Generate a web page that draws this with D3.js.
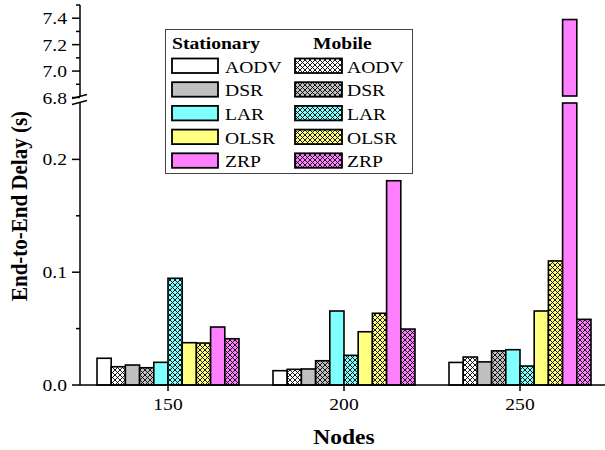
<!DOCTYPE html>
<html>
<head>
<meta charset="utf-8">
<script src="https://cdn.jsdelivr.net/npm/d3@7"></script>
<style>
  html, body { margin: 0; padding: 0; background: #fff; }
  svg { display: block; }
  text { font-family: "Liberation Serif", "Times New Roman", serif; fill: #000; }
</style>
</head>
<body>
<svg id="chart" width="605" height="450"></svg>
<script>
// ---- data ----
const nodeCounts = ["150", "200", "250"];
const protocols = ["AODV", "DSR", "LAR", "OLSR", "ZRP"];
const modes = ["Stationary", "Mobile"];
const protocolColors = ["#ffffff", "#c0c0c0", "#80ffff", "#ffff80", "#ff80ff"];

// end-to-end delay (s), one row per node count, columns follow `protocols`
const stationaryDelay = [
  [0.0237, 0.0177, 0.0201, 0.0375, 0.0514],
  [0.0127, 0.0142, 0.0656, 0.0472, 0.1811],
  [0.0200, 0.0205, 0.0313, 0.0656, 7.39]
];
const mobileDelay = [
  [0.0162, 0.0153, 0.0946, 0.0372, 0.0410],
  [0.0139, 0.0215, 0.0263, 0.0636, 0.0496],
  [0.0248, 0.0303, 0.0168, 0.1100, 0.0582]
];

// broken y axis: lower and upper segments
const lowerDomain = [0, 0.25];
const upperDomain = [6.8, 7.5];
const lowerTicks = [0, 0.1, 0.2];
const lowerMinorTicks = [0.05, 0.15];
const upperTicks = [6.8, 7.0, 7.2, 7.4];
const upperMinorTicks = [6.9, 7.1, 7.3, 7.5];

// ---- layout ----
const svg = d3.select("#chart");
const axisX = 80, baseY = 385;
const STRETCH = 1.12;

const yLow = d3.scaleLinear().domain(lowerDomain).range([baseY, 103]);
const yUp = d3.scaleLinear().domain(upperDomain).range([97.5, 5]);

const x0 = d3.scaleBand().domain(nodeCounts).range([axisX, 608])
  .paddingInner(34 / 176).paddingOuter(17 / 176);

const barKeys = [];
protocols.forEach(p => modes.forEach(m => barKeys.push(p + "|" + m)));
const x1 = d3.scaleBand().domain(barKeys).range([0, x0.bandwidth()]).padding(0);

// cross-hatch patterns for the mobile bars
const defs = svg.append("defs");
protocolColors.forEach((c, i) => {
  const pat = defs.append("pattern")
    .attr("id", "hatch" + i)
    .attr("patternUnits", "userSpaceOnUse")
    .attr("width", 5).attr("height", 5);
  pat.append("rect").attr("width", 5).attr("height", 5).attr("fill", c);
  pat.append("path")
    .attr("d", "M-1,1 L1,-1 M0,5 L5,0 M4,6 L6,4 M-1,4 L1,6 M0,0 L5,5 M4,-1 L6,1")
    .attr("stroke", "#000").attr("stroke-width", 0.9);
});

function fillFor(pi, mode) {
  return mode === "Mobile" ? "url(#hatch" + pi + ")" : protocolColors[pi];
}

// stretched text helper
function label(sel, x, y, str, opts = {}) {
  const t = sel.append("text")
    .attr("transform", `translate(${x},${y}) scale(${STRETCH},1)`)
    .attr("font-size", opts.size || 17.5)
    .attr("text-anchor", opts.anchor || "start")
    .text(str);
  if (opts.bold) t.attr("font-weight", "bold");
  return t;
}

// ---- bars ----
const bars = [];
nodeCounts.forEach((n, ni) => {
  protocols.forEach((p, pi) => {
    bars.push({ node: n, protocol: p, pi, mode: "Stationary", value: stationaryDelay[ni][pi] });
    bars.push({ node: n, protocol: p, pi, mode: "Mobile", value: mobileDelay[ni][pi] });
  });
});

const barG = svg.append("g");
bars.forEach(d => {
  const bx = x0(d.node) + x1(d.protocol + "|" + d.mode);
  const bw = x1.bandwidth();
  const fill = fillFor(d.pi, d.mode);
  if (d.value <= lowerDomain[1]) {
    const top = yLow(d.value);
    barG.append("rect")
      .attr("x", bx).attr("y", top).attr("width", bw).attr("height", baseY - top)
      .attr("fill", fill).attr("stroke", "#000").attr("stroke-width", 1.6);
  } else {
    // lower piece spans the full lower segment, upper piece continues above the break
    const lowTop = yLow(lowerDomain[1]);
    barG.append("rect")
      .attr("x", bx).attr("y", lowTop).attr("width", bw).attr("height", baseY - lowTop)
      .attr("fill", fill).attr("stroke", "#000").attr("stroke-width", 1.6);
    const top = yUp(d.value);
    const bottom = yUp(upperDomain[0]) - 1.5;
    barG.append("rect")
      .attr("x", bx).attr("y", top).attr("width", bw).attr("height", bottom - top)
      .attr("fill", fill).attr("stroke", "#000").attr("stroke-width", 1.6);
  }
});

// ---- axes ----
const axG = svg.append("g").attr("stroke", "#000").attr("stroke-width", 1.5);
// y axis line, broken
axG.append("line").attr("x1", axisX).attr("x2", axisX).attr("y1", yUp(upperDomain[1])).attr("y2", 96.5);
axG.append("line").attr("x1", axisX).attr("x2", axisX).attr("y1", 102.5).attr("y2", baseY);
// break marks
axG.append("line").attr("x1", 72).attr("y1", 98.5).attr("x2", 87).attr("y2", 94.5);
axG.append("line").attr("x1", 72).attr("y1", 104.5).attr("x2", 87).attr("y2", 100.5);
// x axis line
axG.append("line").attr("x1", axisX).attr("x2", 608).attr("y1", baseY).attr("y2", baseY);

const fmt = d3.format(".1f");
lowerTicks.forEach(v => {
  axG.append("line").attr("x1", axisX - 8).attr("x2", axisX).attr("y1", yLow(v)).attr("y2", yLow(v));
  label(svg, axisX - 13, yLow(v) + 6, fmt(v), { anchor: "end" });
});
lowerMinorTicks.forEach(v => {
  axG.append("line").attr("x1", axisX - 4).attr("x2", axisX).attr("y1", yLow(v)).attr("y2", yLow(v));
});
upperTicks.forEach(v => {
  axG.append("line").attr("x1", axisX - 8).attr("x2", axisX).attr("y1", yUp(v)).attr("y2", yUp(v));
  label(svg, axisX - 13, yUp(v) + 6, fmt(v), { anchor: "end" });
});
upperMinorTicks.forEach(v => {
  axG.append("line").attr("x1", axisX - 4).attr("x2", axisX).attr("y1", yUp(v)).attr("y2", yUp(v));
});

nodeCounts.forEach(n => {
  const cx = x0(n) + x0.bandwidth() / 2;
  axG.append("line").attr("x1", cx).attr("x2", cx).attr("y1", baseY).attr("y2", baseY + 6);
  label(svg, cx, 410, n, { anchor: "middle" });
});

// axis titles
label(svg, 344, 444, "Nodes", { anchor: "middle", bold: true, size: 21 });
svg.append("text")
  .attr("transform", `translate(26.5,206) rotate(-90) scale(1,${STRETCH})`)
  .attr("text-anchor", "middle")
  .attr("font-weight", "bold")
  .attr("font-size", 21)
  .text("End-to-End Delay (s)");

// ---- legend ----
const lg = svg.append("g");
lg.append("rect").attr("x", 165.5).attr("y", 29.5).attr("width", 247).attr("height", 144)
  .attr("fill", "#fff").attr("stroke", "#444").attr("stroke-width", 1);
label(lg, 172, 49, "Stationary", { bold: true });
label(lg, 313, 49, "Mobile", { bold: true });
protocols.forEach((p, i) => {
  const top = 58.5 + i * 23.7;
  lg.append("rect").attr("x", 172).attr("y", top).attr("width", 46).attr("height", 14.5)
    .attr("fill", fillFor(i, "Stationary")).attr("stroke", "#000").attr("stroke-width", 1.8);
  label(lg, 225, top + 14, p);
  lg.append("rect").attr("x", 295).attr("y", top).attr("width", 47).attr("height", 14.5)
    .attr("fill", fillFor(i, "Mobile")).attr("stroke", "#000").attr("stroke-width", 1.8);
  label(lg, 347, top + 14, p);
});
</script>
</body>
</html>
